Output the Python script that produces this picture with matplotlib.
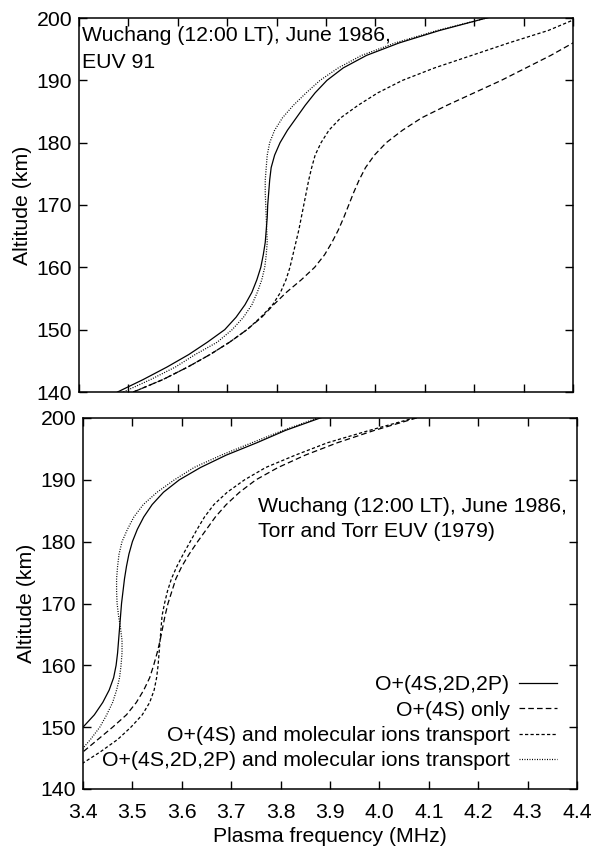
import numpy as np
import matplotlib
matplotlib.use("Agg")
import matplotlib.pyplot as plt
from matplotlib.lines import Line2D

plt.rcParams['font.family'] = ['Liberation Sans', 'DejaVu Sans']
plt.rcParams['font.size'] = 15.3

# ---- Daten: oberes Panel (EUV 91), Hoehe in km, Frequenz in MHz ----
top_alt_solid = [140, 142, 144, 146, 148, 150, 152, 154, 156, 158, 160, 162, 164, 166, 168, 170,
                 172, 174, 176, 178, 180, 182, 184, 186, 188, 190, 192, 194, 196, 198, 200, 201]
top_f_solid = [3.478, 3.53, 3.578, 3.622, 3.66, 3.695, 3.718, 3.736, 3.75, 3.76, 3.768, 3.773, 3.777,
               3.779, 3.781, 3.782, 3.784, 3.786, 3.789, 3.796, 3.807, 3.822, 3.84, 3.858, 3.878, 3.902,
               3.935, 3.982, 4.048, 4.13, 4.225, 4.28]

top_alt_dot = [140, 142, 144, 146, 148, 150, 152, 154, 156, 158, 160, 162, 164, 166, 168, 170,
               172, 174, 176, 178, 180, 182, 184, 186, 188, 190, 192, 194, 196, 198, 200, 201]
top_f_dot = [3.49, 3.545, 3.595, 3.635, 3.68, 3.71, 3.733, 3.75, 3.761, 3.77, 3.776, 3.779, 3.781,
             3.78, 3.779, 3.778, 3.777, 3.777, 3.779, 3.781, 3.786, 3.796, 3.812, 3.834, 3.86, 3.888,
             3.925, 3.972, 4.04, 4.125, 4.225, 4.28]

top_alt_short = [140, 142, 144, 146, 148, 150, 152, 154, 156, 158, 160, 162, 164, 166, 168, 170,
                 172, 174, 176, 178, 180, 182, 184, 186, 188, 190, 192, 194, 196, 198, 200]
top_f_short = [3.51, 3.57, 3.62, 3.665, 3.705, 3.74, 3.768, 3.792, 3.808, 3.819, 3.827, 3.833, 3.839,
               3.845, 3.85, 3.855, 3.86, 3.865, 3.871, 3.878, 3.89, 3.906, 3.93, 3.965, 4.005, 4.055,
               4.12, 4.195, 4.27, 4.35, 4.41]

top_alt_long = [140, 142, 144, 146, 148, 150, 152, 154, 156, 158, 160, 162, 164, 166, 168, 170,
                172, 174, 176, 178, 180, 182, 184, 186, 188, 190, 192, 194, 196, 198]
top_f_long = [3.51, 3.57, 3.62, 3.665, 3.705, 3.74, 3.77, 3.794, 3.82, 3.85, 3.877, 3.897, 3.912,
              3.925, 3.936, 3.946, 3.956, 3.967, 3.98, 3.998, 4.022, 4.055, 4.094, 4.145, 4.2, 4.255,
              4.305, 4.355, 4.4, 4.44]

# ---- Daten: unteres Panel (Torr and Torr EUV) ----
bot_alt_solid = [149, 150, 152, 154, 156, 158, 160, 162, 164, 166, 168, 170, 172, 174, 176, 178,
                 180, 182, 184, 186, 188, 190, 192, 194, 196, 198, 200, 201]
bot_f_solid = [3.39, 3.40, 3.423, 3.44, 3.453, 3.462, 3.467, 3.47, 3.472, 3.474, 3.476, 3.478,
               3.481, 3.484, 3.488, 3.493, 3.5, 3.51, 3.523, 3.54, 3.563, 3.595, 3.638, 3.69,
               3.752, 3.81, 3.88, 3.92]

bot_alt_dot = [145.5, 146.6, 148, 150, 152, 154, 156, 158, 160, 162, 164, 166, 168, 170, 172, 174,
               176, 178, 180, 182, 184, 186, 188, 190, 192, 194, 196, 198, 200, 201]
bot_f_dot = [3.39, 3.40, 3.415, 3.434, 3.448, 3.46, 3.468, 3.474, 3.477, 3.479, 3.479, 3.476,
             3.472, 3.469, 3.468, 3.468, 3.47, 3.473, 3.479, 3.49, 3.503, 3.522, 3.55, 3.585,
             3.625, 3.68, 3.742, 3.805, 3.875, 3.915]

bot_alt_long = [145, 146, 148, 150, 152, 154, 156, 158, 160, 162, 164, 166, 168, 170, 172, 174,
                176, 178, 180, 182, 184, 186, 188, 190, 192, 194, 196, 198, 200, 201]
bot_f_long = [3.39, 3.40, 3.43, 3.46, 3.488, 3.508, 3.523, 3.535, 3.543, 3.55, 3.556, 3.561, 3.566,
              3.572, 3.58, 3.588, 3.6, 3.615, 3.632, 3.65, 3.668, 3.69, 3.717, 3.75, 3.795, 3.85,
              3.915, 3.99, 4.075, 4.12]

bot_alt_short = [143.5, 144.2, 146, 148, 150, 152, 154, 156, 158, 160, 162, 164, 166, 168, 170, 172,
                 174, 176, 178, 180, 182, 184, 186, 188, 190, 192, 194, 196, 198, 200, 201]
bot_f_short = [3.39, 3.40, 3.435, 3.47, 3.497, 3.52, 3.535, 3.544, 3.549, 3.552, 3.554, 3.556, 3.558,
               3.56, 3.565, 3.571, 3.579, 3.59, 3.603, 3.617, 3.631, 3.646, 3.665, 3.692, 3.727,
               3.77, 3.83, 3.895, 3.98, 4.07, 4.115]

labels = ["O+(4S,2D,2P)", "O+(4S) only", "O+(4S) and molecular ions transport",
          "O+(4S,2D,2P) and molecular ions transport"]
xticks = [3.4, 3.5, 3.6, 3.7, 3.8, 3.9, 4.0, 4.1, 4.2, 4.3, 4.4]
yticks = [140, 150, 160, 170, 180, 190, 200]

# Linienstile
lw = 0.9
st_solid = dict(color="black", lw=lw, linestyle="-")
st_long = dict(color="black", lw=lw, dashes=(4.5, 2.5))
st_short = dict(color="black", lw=lw, dashes=(2.6, 1.8))
st_dot = dict(color="black", lw=lw, dashes=(0.8, 1.2))

fig = plt.figure(figsize=(5.92, 8.5), dpi=100)
ax1 = fig.add_axes([79 / 592, 1 - 392 / 850, 494 / 592, 374 / 850])
ax2 = fig.add_axes([83 / 592, 1 - 789 / 850, 494 / 592, 371 / 850])


def style_axes(ax, show_xlabels):
    ax.set_xlim(3.4, 4.4)
    ax.set_ylim(140, 200)
    ax.set_xticks(xticks)
    ax.set_yticks(yticks)
    ax.tick_params(direction="in", top=True, right=True, length=6, width=1.0)
    ax.tick_params(axis="y", pad=5)
    ax.tick_params(axis="x", pad=10)
    for s in ax.spines.values():
        s.set_linewidth(1.1)
    if show_xlabels:
        ax.set_xticklabels(["%.1f" % t for t in xticks])
    else:
        ax.set_xticklabels([])
    ax.set_ylabel("Altitude (km)", labelpad=3)


# oberes Panel
ax1.plot(top_f_solid, top_alt_solid, **st_solid)
ax1.plot(top_f_long, top_alt_long, **st_long)
ax1.plot(top_f_short, top_alt_short, **st_short)
ax1.plot(top_f_dot, top_alt_dot, **st_dot)
style_axes(ax1, False)
ax1.text(0.006, 0.978, "Wuchang (12:00 LT), June 1986,\nEUV 91", transform=ax1.transAxes,
         ha="left", va="top", linespacing=1.5)

# unteres Panel
ax2.plot(bot_f_solid, bot_alt_solid, **st_solid)
ax2.plot(bot_f_long, bot_alt_long, **st_long)
ax2.plot(bot_f_short, bot_alt_short, **st_short)
ax2.plot(bot_f_dot, bot_alt_dot, **st_dot)
style_axes(ax2, True)
ax2.set_xlabel("Plasma frequency (MHz)", labelpad=4)
ax2.text(0.354, 0.786, "Wuchang (12:00 LT), June 1986,\nTorr and Torr EUV (1979)",
         transform=ax2.transAxes, ha="left", va="top", linespacing=1.4)

handles = [Line2D([], [], **st_solid), Line2D([], [], **st_long),
           Line2D([], [], **st_short), Line2D([], [], **st_dot)]
ax2.legend(handles, labels, loc="lower right", bbox_to_anchor=(0.96, 0.05), markerfirst=False,
           frameon=False, handlelength=1.8, handletextpad=0.45, labelspacing=0.3,
           borderpad=0, borderaxespad=0)

fig.savefig("out.png", dpi=100)
